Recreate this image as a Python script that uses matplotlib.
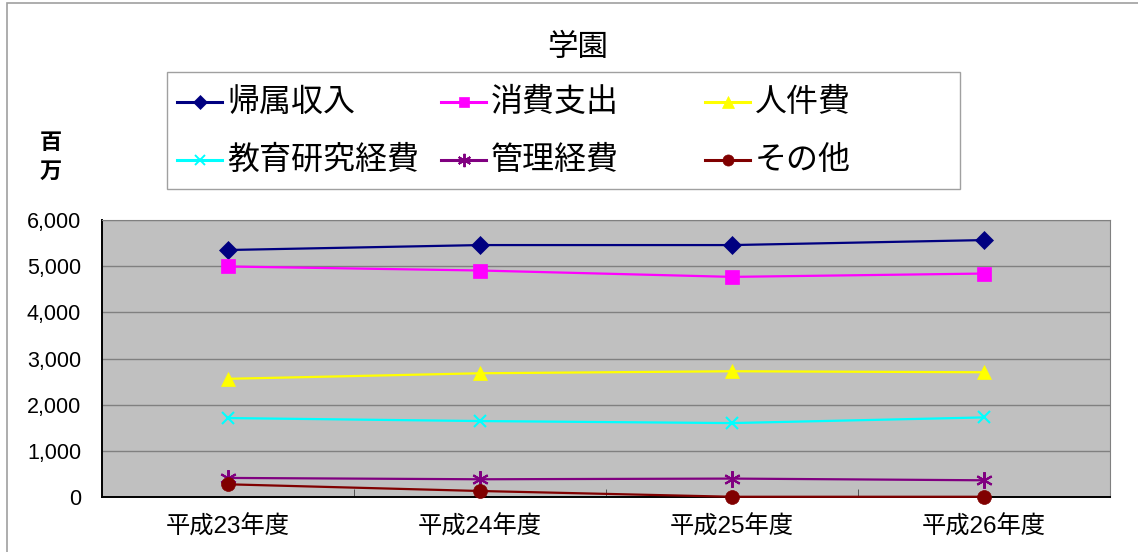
import matplotlib
matplotlib.use("Agg")
from matplotlib import pyplot as plt
from matplotlib.lines import Line2D
from matplotlib.patches import Rectangle

# Fonts: Latin digits in Liberation Sans, Japanese from Noto Sans CJK JP
plt.rcParams['font.family'] = ['Liberation Sans', 'Noto Sans CJK JP']
jp_font = ['Noto Sans CJK JP', 'DejaVu Sans']

#
# Data (百万円)
#

years = ["平成23年度", "平成24年度", "平成25年度", "平成26年度"]

income = [5350, 5457, 5457, 5565]        # 帰属収入
spending = [4993, 4906, 4768, 4840]      # 消費支出
personnel = [2560, 2680, 2724, 2702]     # 人件費
education = [1710, 1645, 1601, 1724]     # 教育研究経費
admin = [413, 384, 399, 362]             # 管理経費
other = [275, 130, 5, 5]                 # その他

series = [
	("帰属収入", income, "#000080", "D", 9),
	("消費支出", spending, "#FF00FF", "s", 9.5),
	("人件費", personnel, "#FFFF00", "^", 10),
	("教育研究経費", education, "#00FFFF", "x", 9),
	("管理経費", admin, "#800080", (6, 2, 0), 12),
	("その他", other, "#800000", "o", 10),
]

W, H = 1138, 552
fig = plt.figure(figsize=(W / 100, H / 100), dpi=100)

# Outer frame of the chart
fig.patches.append(Rectangle((7 / W, -0.1), 1.2, 1 - 3 / H + 0.1, transform=fig.transFigure,
							 fill=False, edgecolor="#A0A0A0", linewidth=1.2))

ax = fig.add_axes([102 / W, 1 - 497 / H, (1110 - 102) / W, (497 - 220) / H])
ax.set_facecolor("#C0C0C0")

x = list(range(len(years)))
for name, values, color, marker, ms in series:
	ax.plot(x, values, color=color, linewidth=1.6, marker=marker, markersize=ms,
			markeredgewidth=1.5 if marker in ("x", (6, 2, 0)) else 0.5,
			markeredgecolor=color, markerfacecolor=color, zorder=3, clip_on=False)

# Axes
ax.set_xlim(-0.5, len(years) - 0.5)
ax.set_ylim(0, 6000)
ax.set_yticks(range(0, 6001, 1000))
ax.set_yticklabels([f"{v:,}" for v in range(0, 6001, 1000)], fontsize=15.5)
ax.set_xticks(x)
ax.set_xticklabels(years, fontsize=17.5)
ax.set_xticks([i + 0.5 for i in x[:-1]], minor=True)
ax.tick_params(axis="x", which="major", length=0, pad=13)
ax.tick_params(axis="x", which="minor", length=6, direction="in", color="#404040")
ax.tick_params(axis="y", length=0, pad=15)
ax.yaxis.grid(True, color="#808080", linewidth=1)
ax.set_axisbelow(True)
for side in ("top", "right"):
	ax.spines[side].set_color("#808080")
for side in ("left", "bottom"):
	ax.spines[side].set_color("black")
	ax.spines[side].set_linewidth(1.4)

# Title and unit label
fig.text(578 / W, 1 - 48 / H, "学園", family=jp_font, fontsize=22, ha="center", va="center")
fig.text(51 / W, 1 - 157 / H, "百\n万", family=jp_font, fontsize=16, fontweight="bold",
		 ha="center", va="center", linespacing=1.3)

# Legend box, three columns by two rows
fig.patches.append(Rectangle((167 / W, 1 - 189 / H), (960 - 167) / W, (189 - 72) / H,
							 transform=fig.transFigure, facecolor="white",
							 edgecolor="#A0A0A0", linewidth=1))
col_x = [177, 441, 705]
row_y = [102, 160]
for i, (name, values, color, marker, ms) in enumerate(series):
	cx = col_x[i % 3]
	cy = row_y[i // 3]
	fig.add_artist(Line2D([cx / W, (cx + 45) / W], [1 - cy / H, 1 - cy / H],
						  transform=fig.transFigure, color=color, linewidth=2.2))
	fig.add_artist(Line2D([(cx + 22.5) / W], [1 - cy / H], transform=fig.transFigure,
						  marker=marker, markersize=ms * 0.8, color=color,
						  markeredgewidth=1.4 if marker in ("x", (6, 2, 0)) else 0.5,
						  markeredgecolor=color, markerfacecolor=color, linestyle="none"))
	fig.text((cx + 50) / W, 1 - cy / H, name, family=jp_font, fontsize=23,
			 ha="left", va="center")

plt.savefig("out.png", dpi=100)
